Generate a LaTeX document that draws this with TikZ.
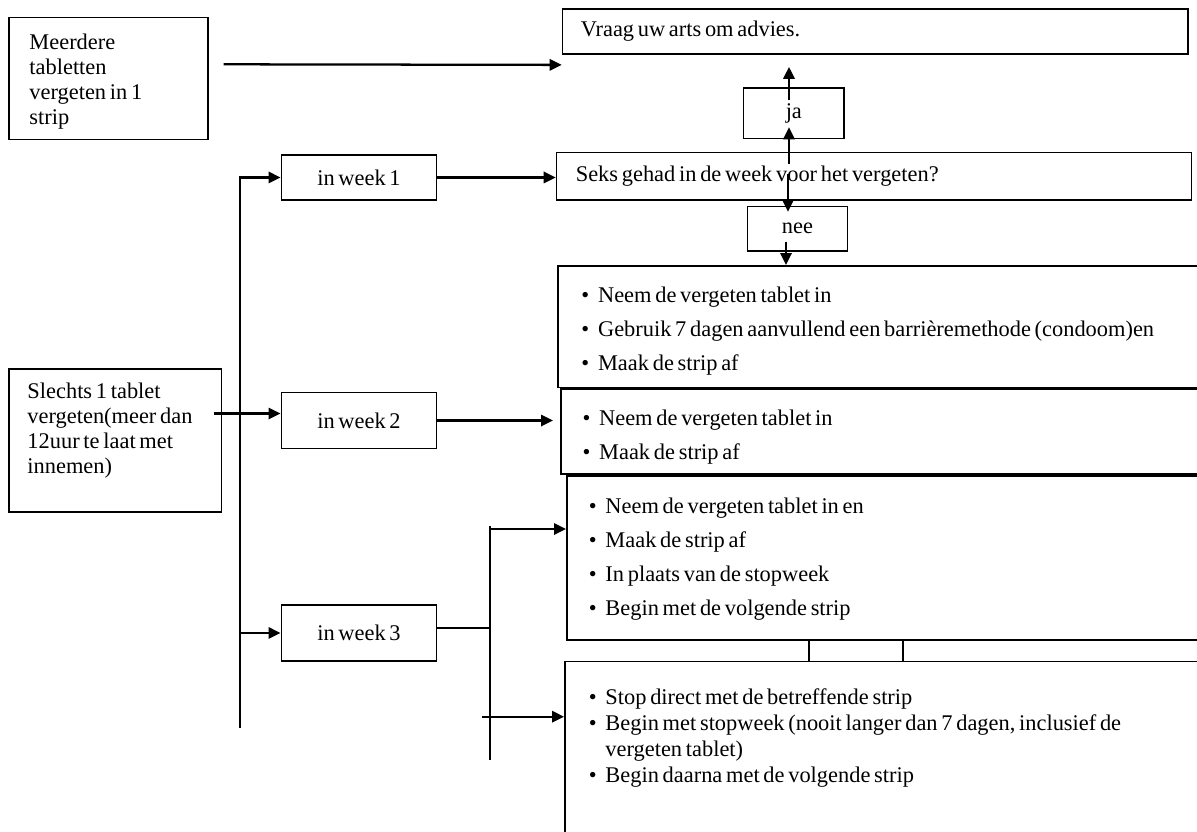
\documentclass[tikz,border=0pt]{standalone}
\usepackage{fontspec}
\setmainfont{Liberation Serif}
\usepackage{tikz}
\usetikzlibrary{arrows.meta,positioning,calc}
\newcommand{\stip}{\makebox[12.5pt][l]{\textbullet}}
\newcommand{\tekst}{\fontsize{16.8pt}{18.75pt}\selectfont}

\begin{document}
\begin{tikzpicture}[x=0.75pt,y=-0.75pt,
    box/.style={draw,line width=1.2pt,inner ysep=0pt,font=\tekst,
                execute at begin node={\spaceskip=2.8pt plus 1pt minus 0.5pt\relax}},
    txtbox/.style={box,anchor=north west,align=left},
    weekbox/.style={box,anchor=north west,minimum width=116.5pt,align=center},
    arr/.style={-{Triangle[length=9pt,width=8.5pt]},line width=1.7pt},
    lijn/.style={line width=2.2pt}]
        \useasboundingbox (0,0) rectangle (1197,832);
        \clip (0,0) rectangle (1197,832);
        \node[txtbox,inner xsep=15.5pt,text width=118.25pt,minimum height=91.5pt]
          (meer) at (8,16.5) {\rule{0pt}{16pt}Meerdere\\tabletten\\vergeten in 1\\strip};
        \node[txtbox,inner xsep=13.8pt,text width=131.7pt,minimum height=107.25pt]
          (slechts) at (8.3,368) {Slechts 1 tablet\\vergeten(meer dan\\12uur te laat met\\innemen)\\\mbox{}};
        \foreach \n/\y/\h in {1/154/34, 2/391.7/42, 3/604.3/41.8}{
          \node[weekbox,minimum height=\h pt] (week\n) at (280.5,\y) {in week \n};
        }
        \node[txtbox,inner xsep=13.7pt,text width=441.6pt,minimum height=33.75pt]
          (advies) at (561.7,8.3) {Vraag uw arts om advies.};
        \node[box,anchor=north west,minimum width=75.5pt,minimum height=37.8pt]
          (ja) at (742.7,87.3) {ja};
        \node[txtbox,inner xsep=14.5pt,text width=447.2pt,minimum height=35.5pt]
          (seks) at (555.7,151.7) {Seks gehad in de week voor het vergeten?};
        \node[box,anchor=north west,minimum width=75pt,minimum height=33.2pt]
          (nee) at (746.7,205.7) {nee};
        \node[txtbox,fill=white,inner xsep=17.5pt,text width=454.5pt,minimum height=91.3pt]
          (bul1) at (557.3,265)
          {\rule{0pt}{19pt}\stip Neem de vergeten tablet in\\[6.75pt]
           \stip Gebruik 7 dagen aanvullend een barrièremethode (condoom)en\\[6.75pt]
           \stip Maak de strip af};
        \node[txtbox,fill=white,inner xsep=16.3pt,text width=454.9pt,minimum height=63.75pt]
          (bul2) at (560,388.3)
          {\rule{0pt}{20pt}\stip Neem de vergeten tablet in\\[6.75pt]
           \stip Maak de strip af};
        \node[box,anchor=north west,minimum width=70.5pt,minimum height=75pt]
          (ofbox) at (808.3,600) {};
        \node[txtbox,fill=white,inner xsep=16.5pt,text width=450pt,minimum height=123.2pt]
          (bul3) at (566,475)
          {\rule{0pt}{14pt}\stip Neem de vergeten tablet in en\\[6.75pt]
           \stip Maak de strip af\\[6.75pt]
           \stip In plaats van de stopweek\\[6.75pt]
           \stip Begin met de volgende strip};
        \node[txtbox,fill=white,inner xsep=18pt,text width=448.5pt,minimum height=134.5pt,
              font=\fontsize{16.8pt}{19.5pt}\selectfont]
          (bul4) at (564,660.7)
          {\stip Stop direct met de betreffende strip\\
           \stip Begin met stopweek (nooit langer dan 7 dagen, inclusief de\\
           \hspace*{12.5pt}vergeten tablet)\\
           \stip Begin daarna met de volgende strip\\[4pt]
           \mbox{}};
        \coordinate (stam) at (240,0);
        \coordinate (tak) at (490,0);
        \coordinate (kolom) at (789,0);
        \draw[arr] ($(meer.east)+(15,-14)$) -- ($(advies.south west)+(0,10)$);
        \draw[arr] ($(stam |- week3.west)+(0,95)$) -- (stam |- week1.west) -- (week1.west);
        \draw[arr] (stam |- week3.west) -- (week3.west);
        \draw[arr] ($(slechts.east |- week2.west)+(-8,-7)$) -- ($(week2.west)+(0,-7)$);
        \draw[arr] (week1.east) -- (week1.east -| seks.west);
        \draw[arr] (week2.east) -- ($(week2.east -| bul2.west)+(-7,0)$);
        \draw[lijn] ($(week3.east)+(0,-5)$) -- ($(week3.east -| tak)+(0,-5)$);
        \draw[lijn] ($(tak |- bul3.north)+(0,51)$) -- ($(tak |- bul4.north)+(0,99)$);
        \draw[arr] ($(tak |- bul3.north)+(0,54)$) -- ($(bul3.north west)+(0,54)$);
        \draw[arr] ($(tak |- bul4.north)+(-8,56)$) -- ($(bul4.north west)+(0,56)$);
        \draw[arr] ($(kolom |- seks.north)+(0,12)$) -- ($(kolom |- ja.south)+(0,-12)$);
        \draw[arr] ($(kolom |- ja.north)+(0,13)$) -- ($(kolom |- advies.south)+(0,12)$);
        \draw[arr] ($(kolom |- seks.north)+(-1,22)$) -- ($(kolom |- nee.north)+(-1,6)$);
        \draw[arr] ($(kolom |- nee.south)+(-3,-10)$) -- ($(kolom |- bul1.north)+(-3,0)$);
      \end{tikzpicture}
\end{document}
